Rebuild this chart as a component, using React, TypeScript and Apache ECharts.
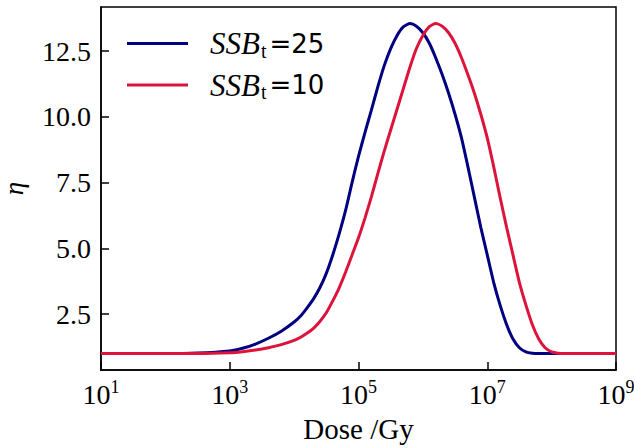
import React, { useEffect, useRef } from 'react';
import * as echarts from 'echarts';

// Dose values (Gy), log-spaced samples along the x axis
const doses = [
  10, 31.6, 100, 316, 1000, 1580, 2510, 3980, 6310,
  1e4, 1.26e4, 1.58e4, 2.0e4, 2.51e4, 3.16e4, 3.98e4, 5.01e4, 6.31e4, 7.94e4,
  1e5, 1.26e5, 1.58e5, 2.0e5, 2.51e5, 3.16e5, 3.98e5, 5.01e5, 6.31e5, 7.94e5,
  1e6, 1.26e6, 1.58e6, 2.0e6, 2.51e6, 3.16e6, 3.98e6, 5.01e6, 6.31e6, 7.94e6,
  1e7, 1.26e7, 1.58e7, 2.0e7, 2.51e7, 3.16e7, 3.98e7, 5.01e7, 6.31e7, 7.94e7,
  1e8, 1.26e8, 1.58e8, 2.0e8, 3.16e8, 1e9,
];

// eta for SSB_t = 25 (navy)
const etaSSB25 = [
  1.0, 1.0, 1.0, 1.02, 1.1, 1.2, 1.36, 1.58, 1.85,
  2.2, 2.43, 2.73, 3.08, 3.5, 4.05, 4.75, 5.55, 6.45, 7.5,
  8.5, 9.4, 10.25, 11.15, 11.95, 12.6, 13.1, 13.43, 13.55, 13.45,
  13.2, 12.8, 12.25, 11.6, 10.9, 10.1, 9.2, 8.1, 6.95, 5.8,
  4.75, 3.7, 2.85, 2.1, 1.55, 1.22, 1.06, 1.01, 1.0, 1.0,
  1.0, 1.0, 1.0, 1.0, 1.0, 1.0,
];

// eta for SSB_t = 10 (crimson)
const etaSSB10 = [
  1.0, 1.0, 1.0, 1.0, 1.03, 1.07, 1.13, 1.22, 1.34,
  1.5, 1.62, 1.77, 1.96, 2.22, 2.55, 3.0, 3.5, 4.1, 4.75,
  5.4, 6.15, 6.95, 7.85, 8.7, 9.5, 10.3, 11.1, 11.9, 12.6,
  13.1, 13.43, 13.55, 13.45, 13.2, 12.8, 12.25, 11.6, 10.9, 10.1,
  9.2, 8.1, 6.95, 5.8, 4.75, 3.7, 2.85, 2.1, 1.55, 1.22,
  1.06, 1.01, 1.0, 1.0, 1.0, 1.0,
];

const seriesNames = ['SSB25', 'SSB10'];
const legendValues = ['25', '10'];
const xTickValues = [1e1, 1e3, 1e5, 1e7, 1e9];
const yTickValues = [2.5, 5.0, 7.5, 10.0, 12.5];
const xRange = [1e1, 1e9];
const yRange = [0.373, 14.18];

const SERIF = '"Liberation Serif", "DejaVu Serif", serif';
const SANS = '"DejaVu Sans", sans-serif';

export default function App() {
  const ref = useRef<HTMLDivElement>(null);
  useEffect(() => {
    if (!ref.current) return;
    const chart = echarts.init(ref.current, undefined, { renderer: 'svg' });
    const colors = ['#000080', '#DC143C'];
    const datasets = [etaSSB25, etaSSB10];
    chart.setOption({
      animation: false,
      backgroundColor: '#ffffff',
      grid: {
        left: 101,
        right: 18,
        top: 7,
        bottom: 78,
        show: true,
        borderColor: '#000',
        borderWidth: 1.5,
        backgroundColor: 'transparent',
        outerBoundsMode: 'none',
      },
      legend: {
        orient: 'vertical',
        left: 127,
        top: 28,
        padding: 0,
        itemWidth: 61,
        itemHeight: 3,
        itemGap: 9,
        icon: 'rect',
        data: seriesNames,
        formatter: (name: string) => {
          const idx = seriesNames.indexOf(name);
          return `{i|SSB}{s|t}{n|=${legendValues[idx]}}`;
        },
        textStyle: {
          fontFamily: SERIF,
          fontSize: 27,
          color: '#000',
          rich: {
            i: { fontFamily: SERIF, fontStyle: 'italic', fontSize: 31, lineHeight: 34, padding: [0, 0, 0, 17], color: '#000' },
            s: { fontFamily: SERIF, fontSize: 20, lineHeight: 20, verticalAlign: 'bottom', padding: [8, 3, 0, 1], color: '#000' },
            n: { fontFamily: SANS, fontSize: 26, lineHeight: 34, color: '#000' },
          },
        },
      },
      xAxis: {
        type: 'log',
        logBase: 10,
        min: xRange[0],
        max: xRange[1],
        name: 'Dose /Gy',
        nameLocation: 'middle',
        nameGap: 44,
        nameTextStyle: { fontFamily: SERIF, fontSize: 29, color: '#000' },
        axisLine: { show: true, lineStyle: { color: '#000', width: 1.5 } },
        axisTick: { show: true, inside: true, length: 8, lineStyle: { color: '#000', width: 1.5 }, customValues: xTickValues },
        axisLabel: {
          show: true,
          margin: 8,
          customValues: xTickValues,
          formatter: (v: number) => `{b|10}{e|${Math.round(Math.log10(v))}}`,
          rich: {
            b: { fontFamily: SERIF, fontSize: 28, lineHeight: 32, color: '#000' },
            e: { fontFamily: SERIF, fontSize: 18, lineHeight: 18, verticalAlign: 'top', color: '#000' },
          },
        },
        splitLine: { show: false },
        minorTick: { show: false },
      },
      yAxis: {
        type: 'value',
        min: yRange[0],
        max: yRange[1],
        name: 'η',
        nameLocation: 'middle',
        nameRotate: 90,
        nameGap: 74,
        nameTextStyle: { fontFamily: SERIF, fontStyle: 'italic', fontSize: 27, color: '#000' },
        axisLine: { show: true, lineStyle: { color: '#000', width: 1.5 } },
        axisTick: { show: true, inside: true, length: 8, lineStyle: { color: '#000', width: 1.5 }, customValues: yTickValues },
        axisLabel: {
          show: true,
          margin: 10,
          customValues: yTickValues,
          formatter: (v: number) => v.toFixed(1),
          fontFamily: SERIF,
          fontSize: 28,
          color: '#000',
        },
        splitLine: { show: false },
      },
      series: seriesNames.map((name, i) => ({
        name,
        type: 'line',
        data: doses.map((d, j) => [d, datasets[i][j]]),
        showSymbol: false,
        symbol: 'none',
        smooth: 0.2,
        lineStyle: { color: colors[i], width: 3 },
        itemStyle: { color: colors[i] },
        z: 3 + i,
      })),
    });
    return () => chart.dispose();
  }, []);
  return (
    <div
      ref={ref}
      style={{ position: 'fixed', left: 0, top: 0, width: 634, height: 448, background: '#fff' }}
    />
  );
}
